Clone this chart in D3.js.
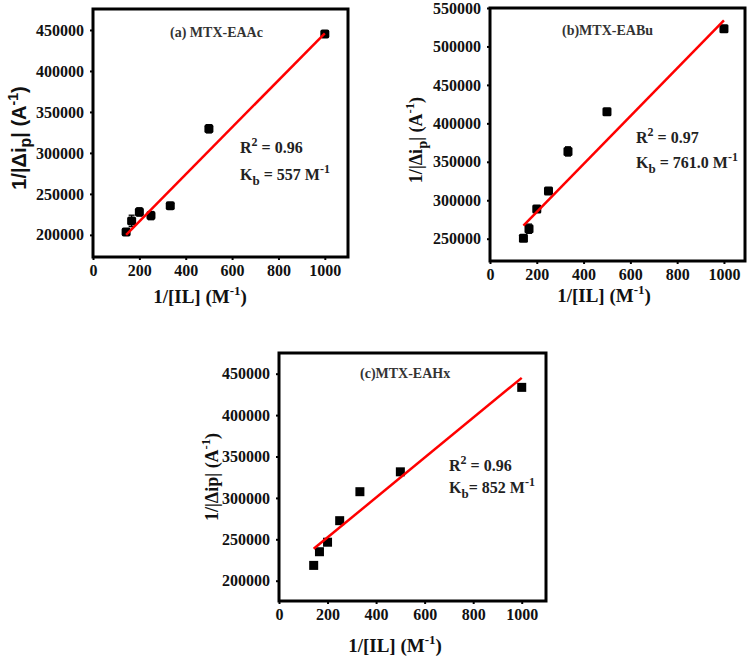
<!DOCTYPE html>
<html>
<head>
<meta charset="utf-8">
<script src="https://cdn.jsdelivr.net/npm/d3@7"></script>
<style>
  body { margin: 0; background: #fff; }
  svg { display: block; }
  .tick text { font-family: "Liberation Serif", serif; font-weight: bold; font-size: 16px; fill: #111; }
  .tick line { stroke: #000; stroke-width: 2; }
  .domain { display: none; }
</style>
</head>
<body>
<div id="chart"></div>
<script>
// 1/[IL] values (M^-1), same for the three panels
var invIL = [142.9, 166.7, 200, 250, 333.3, 500, 1000];

// 1/|Δip| (A^-1)
var eaacY = [203500, 217000, 228000, 223500, 235500, 329500, 445000];
var eaacErr = [4000, 7000, 5000, 5000, 3000, 5000, 3000];
var eaacFit = [[142.9, 200000], [1000, 446000]];

var eabuY = [250500, 263000, 288500, 312000, 363500, 415000, 523000];
var eabuErr = [3000, 6000, 3000, 4000, 6000, 3000, 2000];
var eabuFit = [[142.9, 267000], [1000, 534000]];

var eahxY = [218500, 235000, 246500, 272500, 307500, 331500, 433500];
var eahxErr = [0, 0, 0, 0, 0, 0, 0];
var eahxFit = [[142.9, 238500], [1000, 445000]];

var xTicks = [0, 200, 400, 600, 800, 1000];
var yTicksAC = [200000, 250000, 300000, 350000, 400000, 450000];
var yTicksB = [250000, 300000, 350000, 400000, 450000, 500000, 550000];

var svg = d3.select('#chart').append('svg')
    .attr('width', 749)
    .attr('height', 657);

var serif = '"Liberation Serif", "Times New Roman", serif',
    sans = '"Liberation Sans", Arial, sans-serif';

var drawPanel = function (p) {
    var x = d3.scaleLinear().domain(p.xDomain).range([p.left, p.right]),
        y = d3.scaleLinear().domain(p.yDomain).range([p.bottom, p.top]),
        g = svg.append('g');

    g.append('g')
        .attr('transform', 'translate(0,' + p.bottom + ')')
        .call(d3.axisBottom(x).tickValues(xTicks).tickSize(3).tickPadding(5).tickFormat(d3.format('d')));
    g.append('g')
        .attr('transform', 'translate(' + p.left + ',0)')
        .call(d3.axisLeft(y).tickValues(p.yTicks).tickSize(3).tickPadding(6).tickFormat(d3.format('d')));

    // frame
    g.append('rect')
        .attr('x', p.left).attr('y', p.top)
        .attr('width', p.right - p.left).attr('height', p.bottom - p.top)
        .attr('fill', 'none').attr('stroke', '#000').attr('stroke-width', 3);

    // error bars
    var pts = p.ys.map(function (v, i) { return { x: invIL[i], y: v, e: p.err[i] }; });
    var eb = g.append('g').attr('stroke', '#000').attr('stroke-width', 1.3);
    pts.filter(function (d) { return d.e > 0; }).forEach(function (d) {
        var cx = x(d.x);
        eb.append('line').attr('x1', cx).attr('x2', cx).attr('y1', y(d.y - d.e)).attr('y2', y(d.y + d.e));
        eb.append('line').attr('x1', cx - 3).attr('x2', cx + 3).attr('y1', y(d.y - d.e)).attr('y2', y(d.y - d.e));
        eb.append('line').attr('x1', cx - 3).attr('x2', cx + 3).attr('y1', y(d.y + d.e)).attr('y2', y(d.y + d.e));
    });

    g.selectAll('.pt')
        .data(pts)
        .enter().append('rect')
        .attr('class', 'pt')
        .attr('x', function (d) { return x(d.x) - 4.5; })
        .attr('y', function (d) { return y(d.y) - 4.5; })
        .attr('width', 9)
        .attr('height', 9)
        .attr('rx', p.rx)
        .attr('fill', '#000');

    // fit line
    g.append('path')
        .datum(p.fit)
        .attr('d', d3.line().x(function (d) { return x(d[0]); }).y(function (d) { return y(d[1]); }))
        .attr('stroke', '#f00').attr('stroke-width', 2.5).attr('fill', 'none');

    // panel title
    g.append('text')
        .attr('x', p.title[0]).attr('y', p.title[1])
        .attr('font-family', serif).attr('font-weight', 'bold').attr('font-size', 14)
        .attr('fill', '#333')
        .text(p.title[2]);

    // R2 and Kb
    var r = g.append('text')
        .attr('x', p.stats[0]).attr('y', p.stats[1])
        .attr('font-family', serif).attr('font-weight', 'bold').attr('font-size', 16)
        .attr('fill', '#222');
    r.append('tspan').text('R');
    r.append('tspan').attr('dy', -7).attr('font-size', 12).text('2');
    r.append('tspan').attr('dy', 7).text(p.stats[3]);

    var k = g.append('text')
        .attr('x', p.stats[0]).attr('y', p.stats[2])
        .attr('font-family', serif).attr('font-weight', 'bold').attr('font-size', 16)
        .attr('fill', '#222');
    k.append('tspan').text('K');
    k.append('tspan').attr('dy', 5).attr('font-size', 13).text('b');
    k.append('tspan').attr('dy', -5).text(p.stats[4]);
    k.append('tspan').attr('dy', -7).attr('font-size', 12).text('-1');
    k.append('tspan').attr('dy', 7).text('');

    // x axis label
    var xl = g.append('text')
        .attr('x', p.xLabel[0]).attr('y', p.xLabel[1])
        .attr('text-anchor', 'middle')
        .attr('font-family', serif).attr('font-weight', 'bold').attr('font-size', 19)
        .attr('fill', '#111');
    xl.append('tspan').text('1/[IL] (M');
    xl.append('tspan').attr('dy', -8).attr('font-size', 13).text('-1');
    xl.append('tspan').attr('dy', 8).text(')');

    // y axis label
    var yl = g.append('text')
        .attr('transform', 'translate(' + p.yLabel[0] + ',' + p.yLabel[1] + ') rotate(-90)')
        .attr('text-anchor', 'middle')
        .attr('font-family', p.yFont).attr('font-weight', 'bold').attr('font-size', p.yLabel[2])
        .attr('fill', '#111');
    yl.append('tspan').text('1/|Δi');
    if (p.subP) {
        yl.append('tspan').attr('dy', 5).attr('font-size', p.yLabel[2] * 0.8).text('p');
        yl.append('tspan').attr('dy', -5).text('| (A');
    } else {
        yl.append('tspan').text('p| (A');
    }
    yl.append('tspan').attr('dy', -8).attr('font-size', p.yLabel[2] * 0.7).text('-1');
    yl.append('tspan').attr('dy', 8).text(')');
};

drawPanel({
    left: 93, right: 348, top: 9, bottom: 257,
    xDomain: [0, 1100], yDomain: [173000, 475600], yTicks: yTicksAC,
    ys: eaacY, err: eaacErr, fit: eaacFit, rx: 2,
    title: [170, 37, '(a) MTX-EAAc'],
    stats: [240, 153, 180, ' = 0.96', ' = 557 M'],
    xLabel: [200, 303], yLabel: [26, 138, 20], yFont: sans, subP: true
});

drawPanel({
    left: 490, right: 745, top: 8, bottom: 261,
    xDomain: [0, 1090], yDomain: [221000, 550000], yTicks: yTicksB,
    ys: eabuY, err: eabuErr, fit: eabuFit, rx: 1.5,
    title: [562, 35, '(b)MTX-EABu'],
    stats: [636, 143, 168, ' = 0.97', ' = 761.0 M'],
    xLabel: [604, 302], yLabel: [422, 140, 18], yFont: serif, subP: true
});

drawPanel({
    left: 279, right: 546, top: 353, bottom: 601,
    xDomain: [0, 1100], yDomain: [175500, 475000], yTicks: yTicksAC,
    ys: eahxY, err: eahxErr, fit: eahxFit, rx: 0,
    title: [360, 378, '(c)MTX-EAHx'],
    stats: [449, 471, 493, ' = 0.96', '= 852 M'],
    xLabel: [395, 652], yLabel: [218, 477, 18], yFont: serif, subP: false
});
</script>
</body>
</html>
